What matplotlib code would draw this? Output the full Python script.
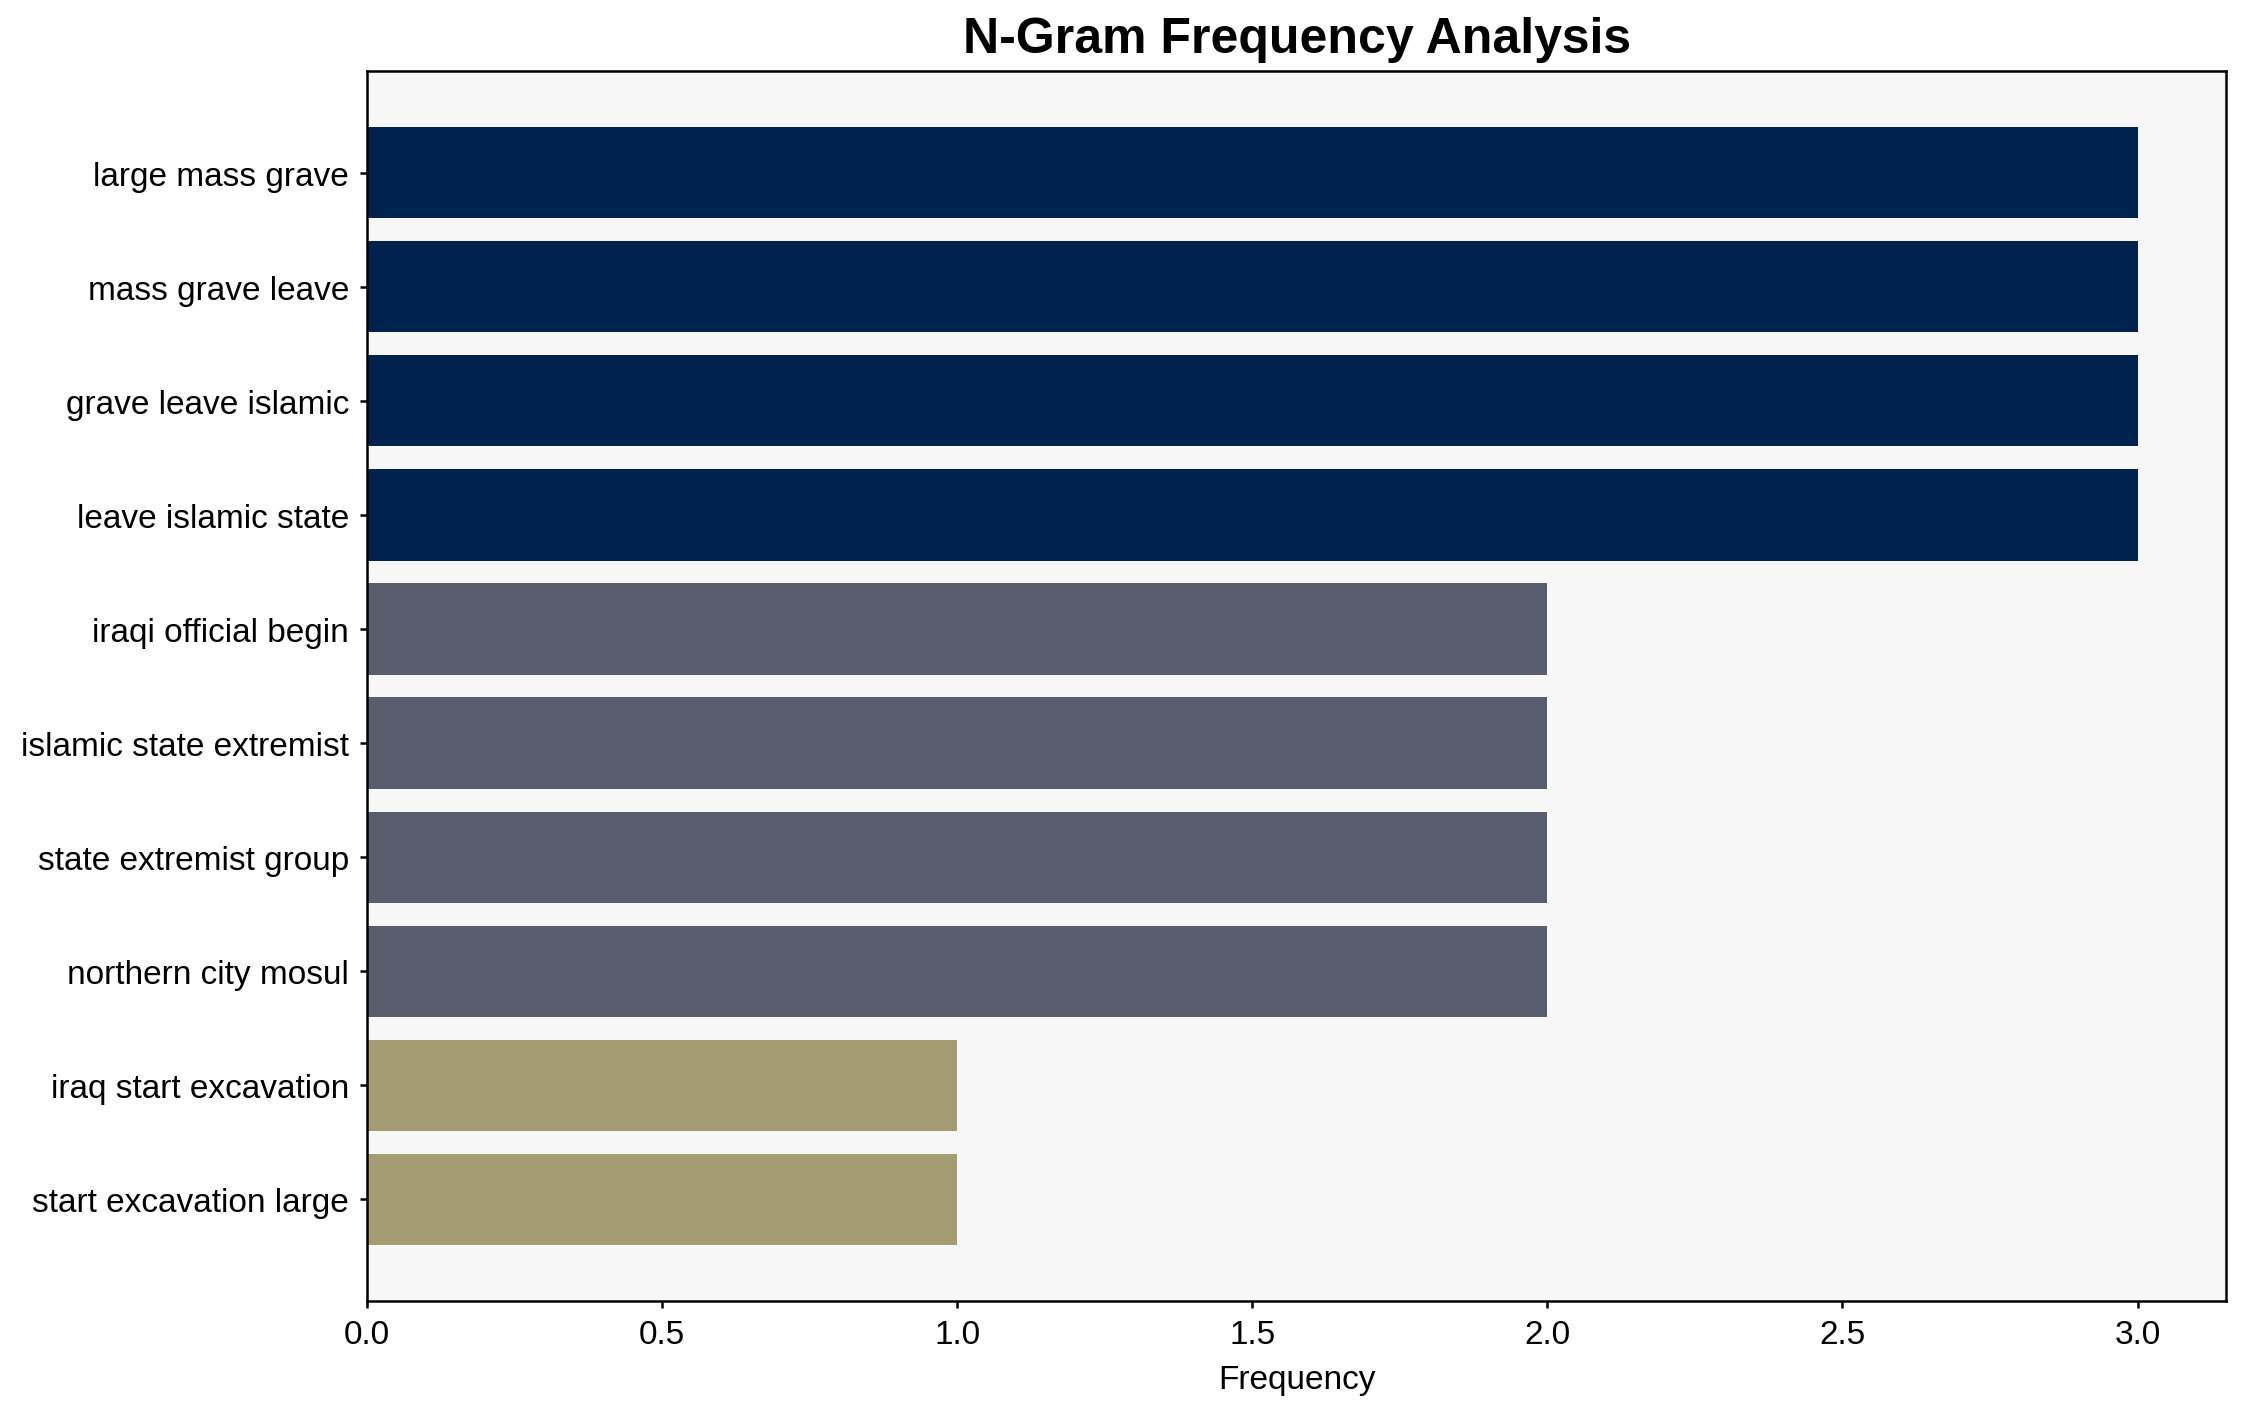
import numpy as np
import matplotlib.pyplot as plt

plt.rcParams['font.family'] = ['Liberation Sans', 'DejaVu Sans']

# n-gram と出現回数
ngrams = ['large mass grave', 'mass grave leave', 'grave leave islamic',
          'leave islamic state', 'iraqi official begin', 'islamic state extremist',
          'state extremist group', 'northern city mosul', 'iraq start excavation',
          'start excavation large']
counts = [3, 3, 3, 3, 2, 2, 2, 2, 1, 1]

fig = plt.figure(figsize=(2247 / 150, 1414 / 150), dpi=150)
ax = fig.add_axes([0.1633, 0.0792, 0.8274, 0.8698])
ax.set_facecolor('#f7f7f7')

vals = np.array(counts)
colors = plt.cm.cividis((vals.max() - vals) / 3)
y = np.arange(len(ngrams))
ax.barh(y, vals, height=0.8, color=colors)
ax.set_yticks(y)
ax.set_yticklabels(ngrams)
ax.invert_yaxis()

for s in ax.spines.values():
    s.set_linewidth(1.2)
ax.tick_params(labelsize=16, width=1.2, pad=5)
ax.set_xlabel('Frequency', fontsize=16, labelpad=7)
ax.set_title('N-Gram Frequency Analysis', fontsize=24, fontweight='bold', pad=9)

fig.savefig('out.png', dpi=150)
